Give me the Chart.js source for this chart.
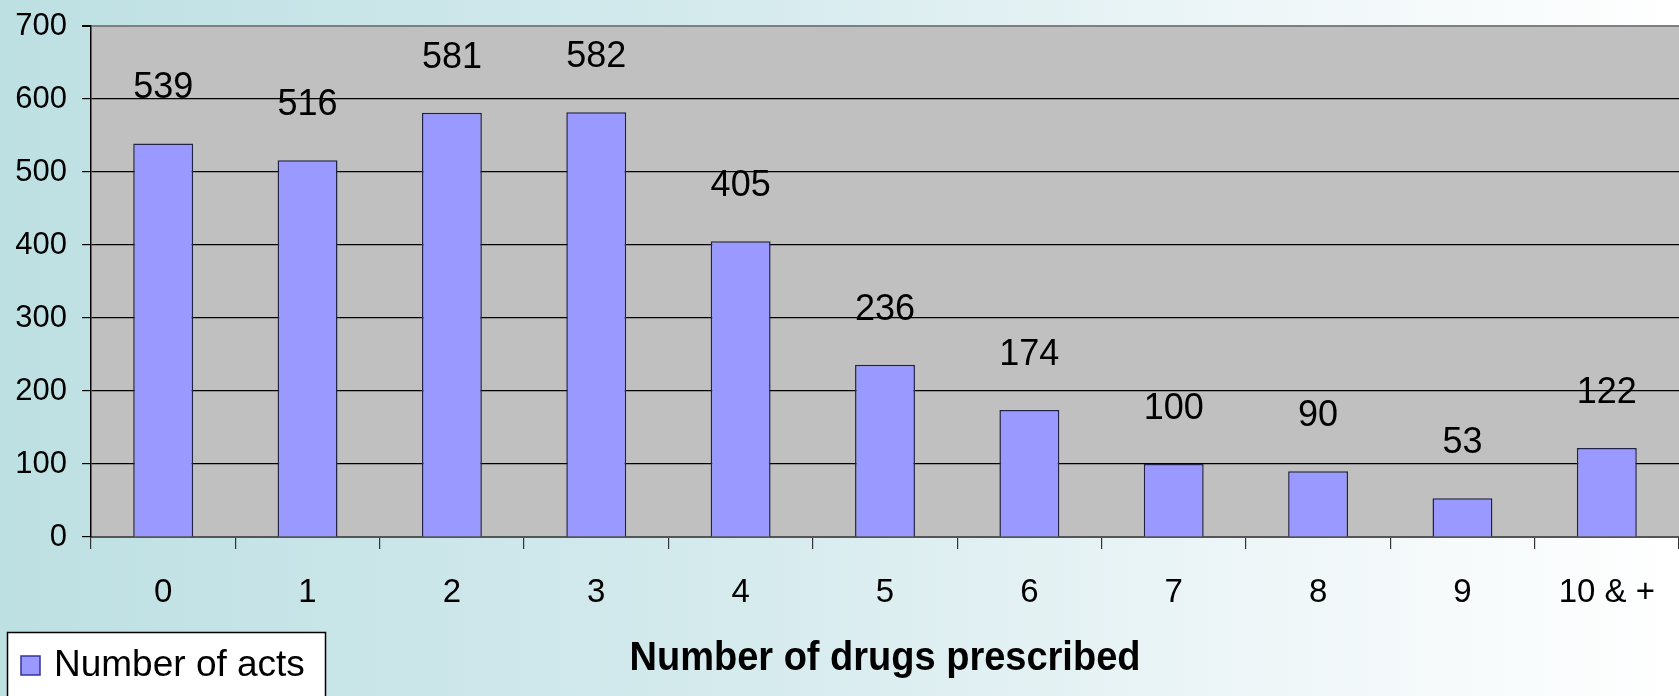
<!DOCTYPE html>
<html>
<head>
<meta charset="utf-8">
<script src="https://cdn.jsdelivr.net/npm/chart.js@4"></script>
<style>
  html, body { margin: 0; padding: 0; }
  body {
    width: 1679px; height: 696px; overflow: hidden;
    background: linear-gradient(to right, #bde0e3 0%, #d6ebee 45%, #eef6f8 75%, #ffffff 100%);
  }
  canvas { display: block; }
</style>
</head>
<body>
<canvas id="c" width="1679" height="696"></canvas>
<script>
const categories = ['0', '1', '2', '3', '4', '5', '6', '7', '8', '9', '10 & +'];
const numberOfActs = [539, 516, 581, 582, 405, 236, 174, 100, 90, 53, 122];
const seriesName = 'Number of acts';
const xAxisTitle = 'Number of drugs prescribed';
const yTicks = [0, 100, 200, 300, 400, 500, 600, 700];

const FONT = "'Liberation Sans', Arial, sans-serif";

const valueLabels = {
  id: 'valueLabels',
  afterDatasetsDraw(chart) {
    const ctx = chart.ctx;
    const meta = chart.getDatasetMeta(0);
    const data = chart.data.datasets[0].data;
    ctx.save();
    ctx.font = '36px ' + FONT;
    ctx.fillStyle = '#000';
    ctx.textAlign = 'center';
    ctx.textBaseline = 'middle';
    meta.data.forEach((bar, i) => {
      ctx.fillText(String(data[i]), bar.x, bar.y - 55);
    });
    ctx.restore();
  }
};

const extras = {
  id: 'extras',
  afterDraw(chart) {
    const ctx = chart.ctx;
    const ds = chart.data.datasets[0];
    const a = chart.chartArea;
    ctx.save();
    // legend box
    ctx.fillStyle = '#ffffff';
    ctx.fillRect(7, 632, 318, 80);
    ctx.strokeStyle = '#000';
    ctx.lineWidth = 1.5;
    ctx.strokeRect(7.5, 632.5, 318, 80);
    ctx.fillStyle = ds.backgroundColor;
    ctx.fillRect(21, 656, 19, 19);
    ctx.strokeStyle = '#333399';
    ctx.lineWidth = 1.5;
    ctx.strokeRect(21, 656, 19, 19);
    ctx.fillStyle = '#000';
    ctx.font = '37px ' + FONT;
    ctx.textAlign = 'left';
    ctx.textBaseline = 'alphabetic';
    ctx.fillText(ds.label, 54, 676);
    // x axis title (bold, slightly narrow)
    ctx.translate((a.left + a.right) / 2, 670);
    ctx.scale(0.95, 1);
    ctx.font = 'bold 40px ' + FONT;
    ctx.textAlign = 'center';
    ctx.fillText(xAxisTitle, 0, 0);
    ctx.restore();
  }
};

const plotBg = {
  id: 'plotBg',
  beforeDraw(chart) {
    const a = chart.chartArea;
    const ctx = chart.ctx;
    ctx.save();
    ctx.fillStyle = '#c0c0c0';
    ctx.fillRect(a.left, a.top, a.right - a.left, a.bottom - a.top);
    ctx.restore();
  }
};

new Chart(document.getElementById('c'), {
  type: 'bar',
  data: {
    labels: categories,
    datasets: [{
      label: seriesName,
      data: numberOfActs,
      backgroundColor: '#9999ff',
      borderColor: '#222244',
      borderWidth: 1.5,
      categoryPercentage: 1,
      barPercentage: 0.415
    }]
  },
  options: {
    responsive: false,
    animation: false,
    devicePixelRatio: 1,
    layout: { autoPadding: false, padding: { top: 26, right: 0, left: 0, bottom: 0 } },
    plugins: { legend: { display: false }, tooltip: { enabled: false }, title: { display: false } },
    scales: {
      x: {
        afterFit(scale) { scale.height = 159; },
        grid: {
          offset: true,
          drawOnChartArea: false,
          drawTicks: true,
          tickLength: 12,
          tickColor: '#333',
          lineWidth: 1.2
        },
        border: { color: '#555', width: 2 },
        ticks: {
          color: '#000',
          font: { family: FONT, size: 33 },
          padding: 24,
          maxRotation: 0,
          autoSkip: false
        }
      },
      y: {
        min: 0,
        max: 700,
        afterFit(scale) { scale.width = 91; },
        afterBuildTicks(scale) { scale.ticks = yTicks.map(v => ({ value: v })); },
        grid: {
          color: (c) => (c.tick && c.tick.value === 700) ? '#7f7f7f' : (c.tick && c.tick.value === 0 ? '#555' : '#000'),
          lineWidth: (c) => (c.tick && c.tick.value === 700) ? 2 : 1.2,
          drawTicks: true,
          tickLength: 9,
          tickColor: '#000'
        },
        border: { color: '#000', width: 1.5 },
        ticks: {
          color: '#000',
          font: { family: FONT, size: 31, lineHeight: 0.5 },
          padding: 15
        }
      }
    }
  },
  plugins: [plotBg, valueLabels, extras]
});
</script>
</body>
</html>
